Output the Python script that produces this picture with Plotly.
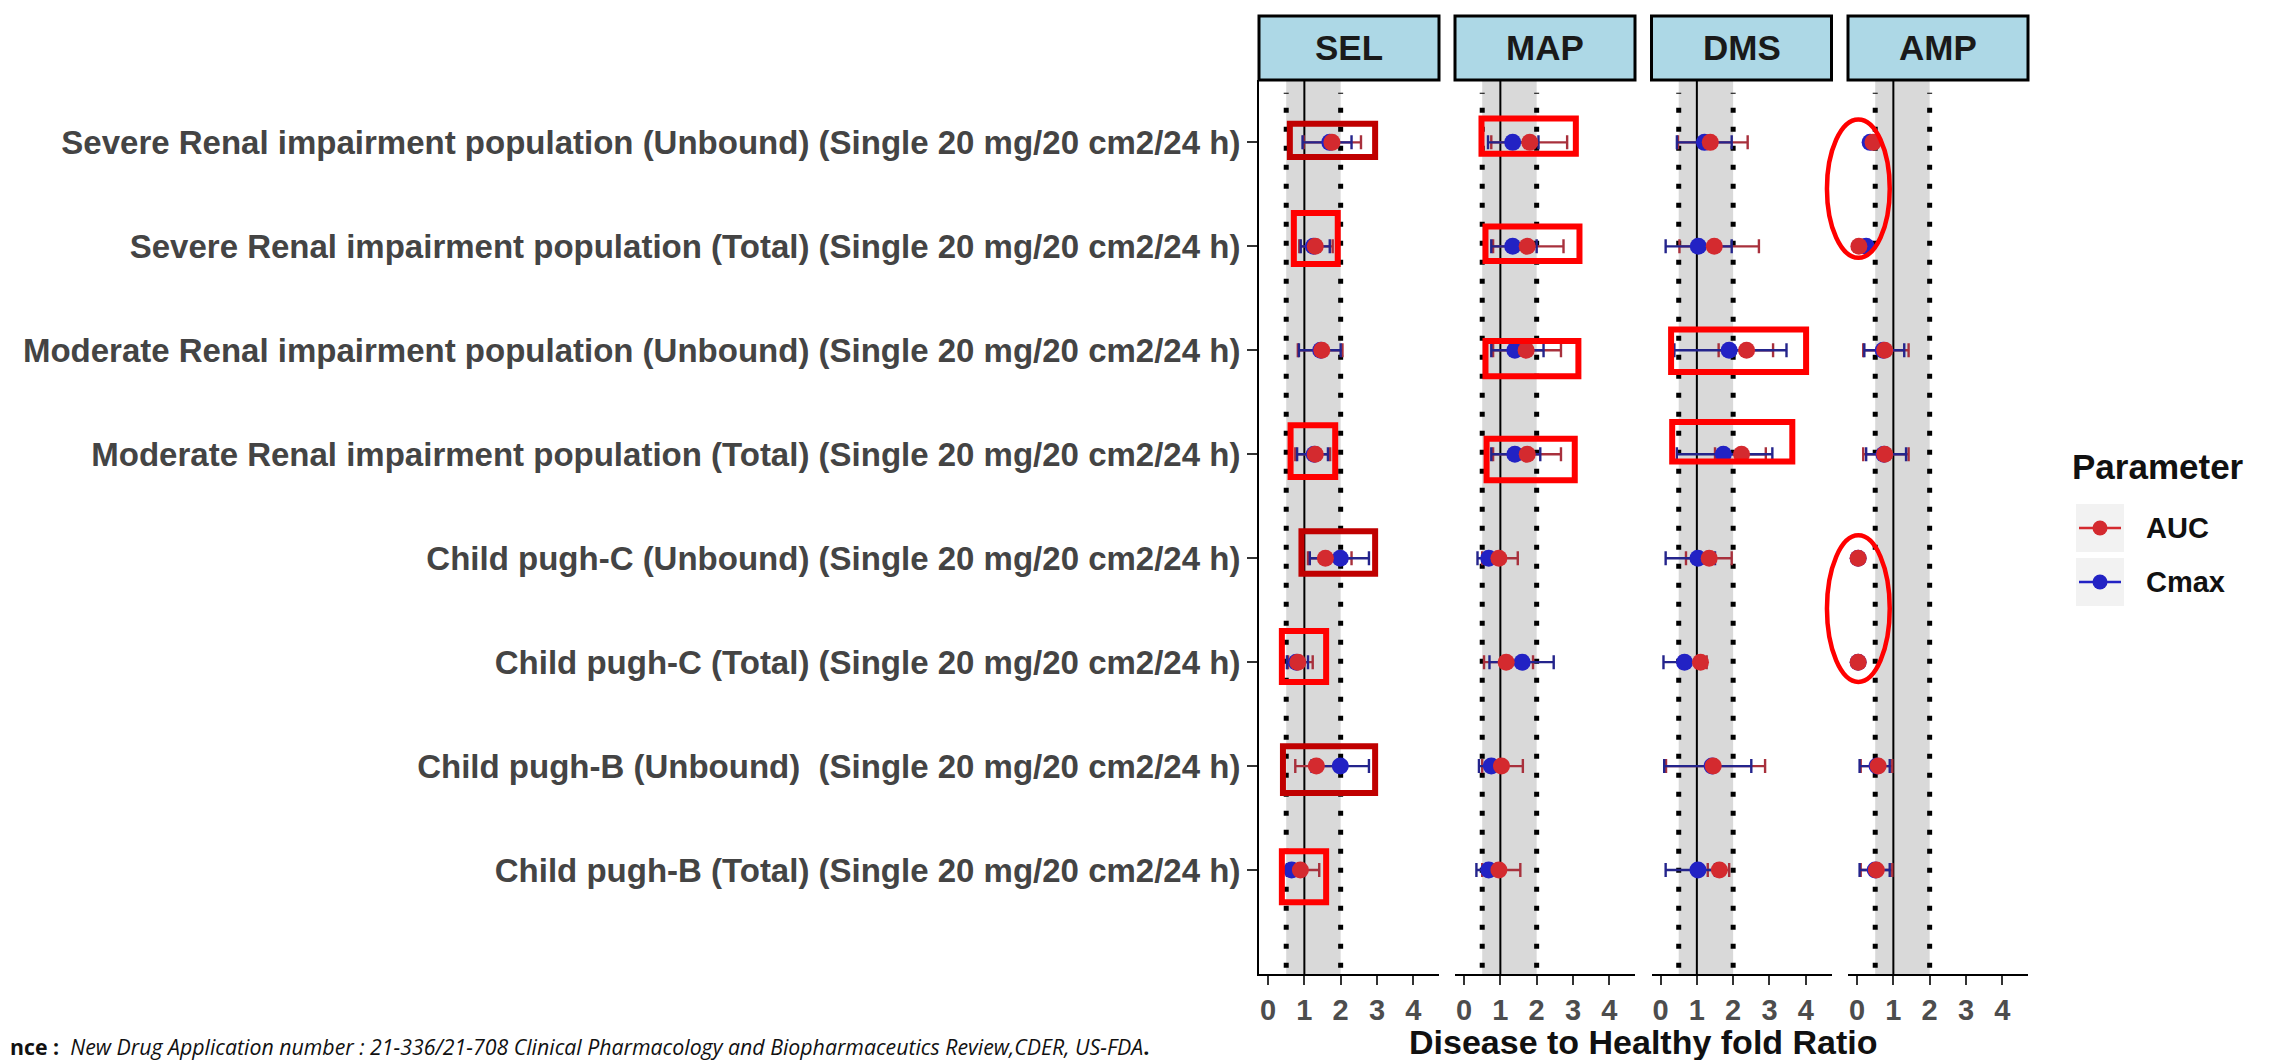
import plotly.graph_objects as go

# ---------------- data ----------------
panels = ["SEL", "MAP", "DMS", "AMP"]

# populations listed top to bottom
populations = [
    "Severe Renal impairment population (Unbound) (Single 20 mg/20 cm2/24 h)",
    "Severe Renal impairment population (Total) (Single 20 mg/20 cm2/24 h)",
    "Moderate Renal impairment population (Unbound) (Single 20 mg/20 cm2/24 h)",
    "Moderate Renal impairment population (Total) (Single 20 mg/20 cm2/24 h)",
    "Child pugh-C (Unbound) (Single 20 mg/20 cm2/24 h)",
    "Child pugh-C (Total) (Single 20 mg/20 cm2/24 h)",
    "Child pugh-B (Unbound)\u00a0 (Single 20 mg/20 cm2/24 h)",
    "Child pugh-B (Total) (Single 20 mg/20 cm2/24 h)",
]

x_ticks = [0, 1, 2, 3, 4]
parameters = ["AUC", "Cmax"]

sel_auc = [1.76, 1.30, 1.48, 1.30, 1.58, 0.82, 1.33, 0.89]
sel_auc_lo = [0.98, 0.86, 0.82, 0.75, 1.10, 0.55, 0.75, 0.60]
sel_auc_hi = [2.56, 1.78, 2.05, 1.71, 2.30, 1.23, 2.00, 1.41]
sel_cmax = [1.70, 1.25, 1.45, 1.27, 1.99, 0.78, 1.99, 0.65]
sel_cmax_lo = [0.95, 0.90, 0.85, 0.80, 1.15, 0.52, 1.20, 0.52]
sel_cmax_hi = [2.30, 1.70, 2.00, 1.65, 2.78, 1.10, 2.78, 1.00]

map_auc = [1.81, 1.74, 1.71, 1.74, 0.96, 1.16, 1.03, 0.96]
map_auc_lo = [0.75, 0.80, 0.80, 0.80, 0.50, 0.55, 0.50, 0.50]
map_auc_hi = [2.84, 2.74, 2.67, 2.67, 1.48, 1.90, 1.62, 1.55]
map_cmax = [1.34, 1.34, 1.40, 1.40, 0.68, 1.60, 0.75, 0.68]
map_cmax_lo = [0.66, 0.75, 0.75, 0.75, 0.37, 0.70, 0.41, 0.34]
map_cmax_hi = [2.05, 2.00, 2.19, 2.10, 1.00, 2.47, 1.05, 1.00]

dms_auc = [1.37, 1.48, 2.37, 2.23, 1.34, 1.10, 1.45, 1.62]
dms_auc_lo = [0.48, 0.52, 1.60, 1.50, 0.70, 0.55, 0.15, 1.30]
dms_auc_hi = [2.40, 2.71, 3.10, 2.90, 1.96, 1.27, 2.88, 1.89]
dms_cmax = [1.21, 1.04, 1.89, 1.73, 1.03, 0.66, 1.42, 1.03]
dms_cmax_lo = [0.45, 0.14, 0.38, 0.45, 0.14, 0.08, 0.10, 0.14]
dms_cmax_hi = [1.96, 1.96, 3.47, 3.08, 1.50, 1.10, 2.50, 1.50]

amp_auc = [0.44, 0.05, 0.76, 0.76, 0.03, 0.03, 0.58, 0.53]
amp_auc_lo = [None, None, 0.17, 0.17, None, None, 0.10, 0.10]
amp_auc_hi = [None, None, 1.42, 1.42, None, None, 0.97, 0.97]
amp_cmax = [0.36, 0.25, 0.72, 0.74, 0.03, 0.03, 0.55, 0.50]
amp_cmax_lo = [None, None, 0.20, 0.25, None, None, 0.07, 0.07]
amp_cmax_hi = [None, None, 1.30, 1.35, None, None, 0.90, 0.90]

panel_data = {
    "SEL": (sel_auc, sel_auc_lo, sel_auc_hi, sel_cmax, sel_cmax_lo, sel_cmax_hi),
    "MAP": (map_auc, map_auc_lo, map_auc_hi, map_cmax, map_cmax_lo, map_cmax_hi),
    "DMS": (dms_auc, dms_auc_lo, dms_auc_hi, dms_cmax, dms_cmax_lo, dms_cmax_hi),
    "AMP": (amp_auc, amp_auc_lo, amp_auc_hi, amp_cmax, amp_cmax_lo, amp_cmax_hi),
}

# reference band / lines
band_lo, band_hi, ref_line = 0.5, 2.0, 1.0

# highlight annotations: (panel, x0, x1, y0, y1 in row-index units, colour)
highlight_boxes = [
    ("SEL", 0.60, 2.95, 6.86, 7.18, "#C00000"),
    ("MAP", 0.48, 3.08, 6.89, 7.23, "#FF0000"),
    ("SEL", 0.71, 1.92, 5.83, 6.32, "#FF0000"),
    ("MAP", 0.59, 3.18, 5.86, 6.19, "#FF0000"),
    ("MAP", 0.59, 3.15, 4.75, 5.09, "#FF0000"),
    ("DMS", 0.29, 4.01, 4.79, 5.20, "#FF0000"),
    ("SEL", 0.62, 1.85, 3.78, 4.28, "#FF0000"),
    ("MAP", 0.62, 3.05, 3.75, 4.15, "#FF0000"),
    ("DMS", 0.32, 3.63, 3.93, 4.31, "#FF0000"),
    ("SEL", 0.92, 2.95, 2.85, 3.26, "#C00000"),
    ("SEL", 0.38, 1.60, 1.81, 2.30, "#FF0000"),
    ("SEL", 0.41, 2.95, 0.74, 1.19, "#C00000"),
    ("SEL", 0.38, 1.60, -0.31, 0.18, "#FF0000"),
]
highlight_ellipses = [
    ("AMP", -0.83, 0.90, 5.89, 7.22, "#FF0000"),
    ("AMP", -0.83, 0.90, 1.81, 3.22, "#FF0000"),
]

# ---------------- layout geometry ----------------
W, H = 2275, 1060
panel_left_px = [1251, 1447, 1643.5, 1840]
panel_w_px = 180
plot_top_px, plot_bottom_px = 72, 966
strip_top_px = 8
x_range = [-0.25, 4.71]
n_rows = len(populations)
y_range = [-1, n_rows - 0.4]

AUC_COL, CMAX_COL = "#D42A2F", "#2222C4"
AUC_ERR, CMAX_ERR = "#A8303C", "#24248C"
FONT = "Liberation Sans, Arial, sans-serif"

y_dom = [(H - plot_bottom_px) / H, (H - plot_top_px) / H]
x_doms = [[l / W, (l + panel_w_px) / W] for l in panel_left_px]


def px_x(panel_idx, v):
    d = x_doms[panel_idx]
    return d[0] + (v - x_range[0]) / (x_range[1] - x_range[0]) * (d[1] - d[0])


def px_y(v):
    return y_dom[0] + (v - y_range[0]) / (y_range[1] - y_range[0]) * (y_dom[1] - y_dom[0])


def errs(val, lo, hi):
    plus = [None if h is None else h - v for v, h in zip(val, hi)]
    minus = [None if l is None else v - l for v, l in zip(val, lo)]
    return plus, minus


fig = go.Figure()

for i, p in enumerate(panels):
    xa = "x" if i == 0 else f"x{i+1}"
    auc, auc_lo, auc_hi, cmax, cmax_lo, cmax_hi = panel_data[p]
    ap, am = errs(auc, auc_lo, auc_hi)
    cp, cm = errs(cmax, cmax_lo, cmax_hi)
    # error bars
    fig.add_trace(go.Scatter(
        x=auc, y=populations, xaxis=xa, yaxis="y", mode="markers",
        marker=dict(size=1, opacity=0), showlegend=False, hoverinfo="skip",
        error_x=dict(type="data", symmetric=False, array=ap, arrayminus=am,
                     color=AUC_ERR, thickness=2.4, width=7)))
    fig.add_trace(go.Scatter(
        x=cmax, y=populations, xaxis=xa, yaxis="y", mode="markers",
        marker=dict(size=1, opacity=0), showlegend=False, hoverinfo="skip",
        error_x=dict(type="data", symmetric=False, array=cp, arrayminus=cm,
                     color=CMAX_ERR, thickness=2.4, width=7)))
    # points
    fig.add_trace(go.Scatter(
        x=cmax, y=populations, xaxis=xa, yaxis="y", mode="markers", name="Cmax",
        marker=dict(size=17, color=CMAX_COL), showlegend=False))
    fig.add_trace(go.Scatter(
        x=auc, y=populations, xaxis=xa, yaxis="y", mode="markers", name="AUC",
        marker=dict(size=17, color=AUC_COL), showlegend=False))

layout = dict(
    width=W, height=H, autosize=False,
    margin=dict(l=0, r=0, t=0, b=0),
    paper_bgcolor="white", plot_bgcolor="white",
    font=dict(family=FONT, color="black"),
    showlegend=False,
    yaxis=dict(type="category", categoryarray=populations[::-1], range=y_range,
               domain=y_dom, anchor="x", showline=True, linecolor="black", linewidth=2,
               ticks="outside", ticklen=10, tickwidth=2, tickcolor="#333",
               tickfont=dict(size=33, weight="bold", color="#444"),
               showgrid=False, zeroline=False),
)
for i in range(len(panels)):
    key = "xaxis" if i == 0 else f"xaxis{i+1}"
    layout[key] = dict(domain=x_doms[i], range=x_range, anchor="y",
                       tickmode="array", tickvals=x_ticks, ticktext=[str(t) for t in x_ticks],
                       showline=True, linecolor="black", linewidth=2,
                       ticks="outside", ticklen=9, tickwidth=2, tickcolor="#333",
                       tickfont=dict(size=29, weight="bold", color="#4D4D4D"),
                       showgrid=False, zeroline=False)
fig.update_layout(**layout)

shapes = []
annotations = []
for i, p in enumerate(panels):
    xa = "x" if i == 0 else f"x{i+1}"
    shapes.append(dict(type="rect", xref=xa, yref="paper", x0=band_lo, x1=band_hi,
                       y0=y_dom[0], y1=y_dom[1], fillcolor="#D9D9D9",
                       line=dict(width=0), layer="below"))
    for xv in (band_lo, band_hi):
        shapes.append(dict(type="line", xref=xa, yref="paper", x0=xv, x1=xv,
                           y0=y_dom[0] + 0.006, y1=y_dom[1] - 0.012,
                           line=dict(color="black", width=5, dash="5px,14px"),
                           layer="below"))
    shapes.append(dict(type="line", xref=xa, yref="paper", x0=ref_line, x1=ref_line,
                       y0=y_dom[0], y1=y_dom[1], line=dict(color="black", width=2),
                       layer="below"))
    # strip
    x0p, x1p = x_doms[i]
    shapes.append(dict(type="rect", xref="paper", yref="paper", x0=x0p, x1=x1p,
                       y0=(H - plot_top_px) / H, y1=(H - strip_top_px) / H,
                       fillcolor="#ADD8E6", line=dict(color="black", width=3)))
    annotations.append(dict(xref="paper", yref="paper", x=(x0p + x1p) / 2,
                            y=(H - (strip_top_px + plot_top_px) / 2) / H,
                            text=p, showarrow=False, xanchor="center", yanchor="middle",
                            font=dict(size=35, weight="bold", color="#1A1A1A")))

for (p, x0, x1, y0, y1, col) in highlight_boxes:
    pi = panels.index(p)
    shapes.append(dict(type="rect", xref="paper", yref="paper",
                       x0=px_x(pi, x0), x1=px_x(pi, x1), y0=px_y(y0), y1=px_y(y1),
                       line=dict(color=col, width=6), fillcolor="rgba(0,0,0,0)"))
for (p, x0, x1, y0, y1, col) in highlight_ellipses:
    pi = panels.index(p)
    shapes.append(dict(type="circle", xref="paper", yref="paper",
                       x0=px_x(pi, x0), x1=px_x(pi, x1), y0=px_y(y0), y1=px_y(y1),
                       line=dict(color=col, width=4.5), fillcolor="rgba(0,0,0,0)"))

# ---------------- manual legend (ggplot style keys) ----------------
leg_cols = [AUC_COL, CMAX_COL]
leg_key_x0, leg_key_x1 = 2068, 2116
leg_centers = [520, 574]
annotations.append(dict(xref="paper", yref="paper", x=2062 / W, y=(H - 458) / H,
                        text="Parameter", showarrow=False, xanchor="left", yanchor="middle",
                        font=dict(size=35, weight="bold", color="#111")))
for name, col, cy in zip(parameters, leg_cols, leg_centers):
    shapes.append(dict(type="rect", xref="paper", yref="paper",
                       x0=leg_key_x0 / W, x1=leg_key_x1 / W,
                       y0=(H - cy - 24) / H, y1=(H - cy + 24) / H,
                       fillcolor="#F2F2F2", line=dict(width=0)))
    shapes.append(dict(type="line", xref="paper", yref="paper",
                       x0=(leg_key_x0 + 3) / W, x1=(leg_key_x1 - 3) / W,
                       y0=(H - cy) / H, y1=(H - cy) / H,
                       line=dict(color=col, width=2.5)))
    cx = (leg_key_x0 + leg_key_x1) / 2
    shapes.append(dict(type="circle", xref="paper", yref="paper",
                       x0=(cx - 7.5) / W, x1=(cx + 7.5) / W,
                       y0=(H - cy - 7.5) / H, y1=(H - cy + 7.5) / H,
                       fillcolor=col, line=dict(width=0)))
    annotations.append(dict(xref="paper", yref="paper", x=2136 / W, y=(H - cy) / H,
                            text=name, showarrow=False, xanchor="left", yanchor="middle",
                            font=dict(size=29, weight="bold", color="#111")))

annotations.append(dict(xref="paper", yref="paper",
                        x=(panel_left_px[0] + panel_left_px[-1] + panel_w_px) / 2 / W,
                        y=(H - 1034) / H, text="Disease to Healthy fold Ratio",
                        showarrow=False, xanchor="center", yanchor="middle",
                        font=dict(size=34, weight="bold", color="#111")))
annotations.append(dict(xref="paper", yref="paper", x=0, y=(H - 1038) / H,
                        text="<b>nce :</b>  <i>New Drug Application number : 21-336/21-708 "
                             "Clinical Pharmacology and Biopharmaceutics Review,CDER, US-FDA</i><b>.</b>",
                        showarrow=False, xanchor="left", yanchor="middle",
                        font=dict(size=21.3, family="Open Sans, sans-serif", color="#111")))

fig.update_layout(shapes=shapes, annotations=annotations)
fig.write_html("out.html")
